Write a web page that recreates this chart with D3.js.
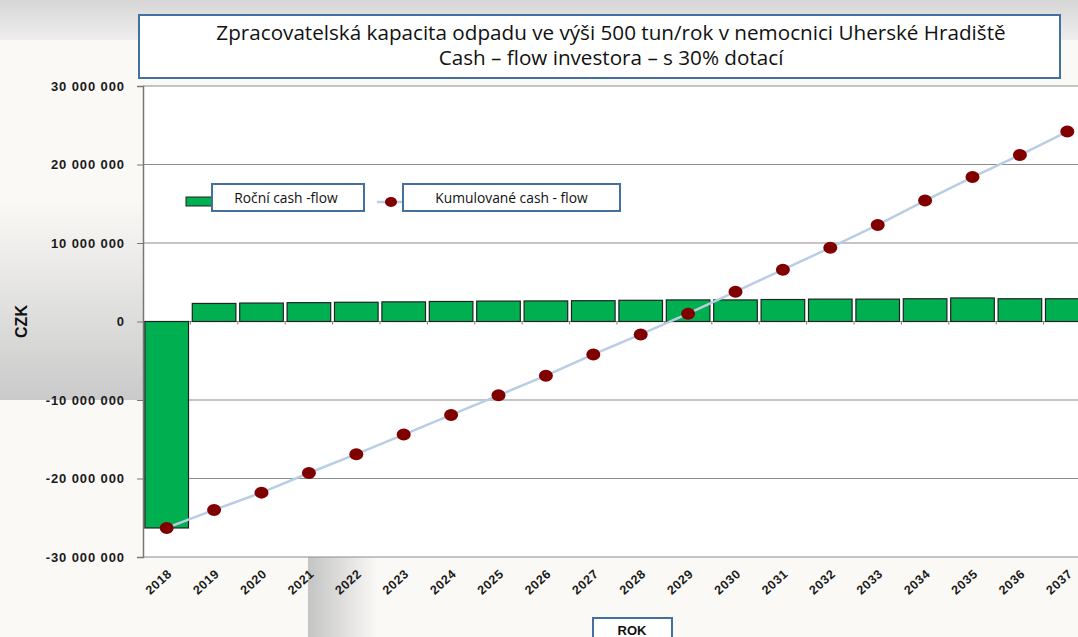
<html lang="cs">
<head>
    <meta charset="UTF-8"/>
    <title>Cash-flow investora</title>
    <script src="https://d3js.org/d3.v7.min.js"></script>
    <style>
        body { margin: 0; background: #faf9f6; }
        svg { display: block; }
    </style>
</head>
<body>
    <script>
        var years = [2018,2019,2020,2021,2022,2023,2024,2025,2026,2027,2028,2029,2030,2031,2032,2033,2034,2035,2036,2037];
        var annualCF = [-26300000, 2300000, 2350000, 2400000, 2450000, 2500000, 2550000, 2600000, 2620000, 2650000,
                        2700000, 2750000, 2750000, 2800000, 2850000, 2850000, 2900000, 3000000, 2900000, 2900000];
        var cumulativeCF = [-26300000, -24000000, -21800000, -19300000, -16900000, -14400000, -11900000, -9400000, -6900000, -4200000,
                            -1650000, 1000000, 3800000, 6600000, 9400000, 12300000, 15400000, 18400000, 21200000, 24200000];
        var yTicks = [-30000000, -20000000, -10000000, 0, 10000000, 20000000, 30000000];
        var titleLines = ["Zpracovatelská kapacita odpadu ve výši 500 tun/rok v nemocnici Uherské Hradiště",
                          "Cash – flow investora – s 30% dotací"];
        var legendLabels = ["Roční cash -flow", "Kumulované cash - flow"];

        var w = 1078, h = 637;
        var plotLeft = 143, plotTop = 86, plotBottom = 557;
        var bandW = 47.4;

        var svg = d3.select("body").append("svg")
            .attr("width", w)
            .attr("height", h);

        var defs = svg.append("defs");
        var g1 = defs.append("linearGradient").attr("id", "leftGrad").attr("x1", 0).attr("x2", 0).attr("y1", 0).attr("y2", 1);
        g1.append("stop").attr("offset", "0%").attr("stop-color", "#faf9f6");
        g1.append("stop").attr("offset", "100%").attr("stop-color", "#cacaca");
        var g2 = defs.append("linearGradient").attr("id", "topGrad").attr("x1", 0).attr("x2", 0).attr("y1", 0).attr("y2", 1);
        g2.append("stop").attr("offset", "0%").attr("stop-color", "#d6d6d6");
        g2.append("stop").attr("offset", "100%").attr("stop-color", "#eeeeee");
        var g3 = defs.append("linearGradient").attr("id", "stripGrad").attr("x1", 0).attr("x2", 1).attr("y1", 0).attr("y2", 0);
        g3.append("stop").attr("offset", "0%").attr("stop-color", "#c4c4c4");
        g3.append("stop").attr("offset", "100%").attr("stop-color", "#faf9f6");

        // background shading
        svg.append("rect").attr("x", 0).attr("y", 0).attr("width", w).attr("height", 40).attr("fill", "url(#topGrad)");
        svg.append("rect").attr("x", 0).attr("y", 200).attr("width", 143).attr("height", 200).attr("fill", "url(#leftGrad)");
        svg.append("rect").attr("x", 308).attr("y", 557).attr("width", 70).attr("height", 80).attr("fill", "url(#stripGrad)");

        var xScale = d3.scaleBand()
            .domain(years)
            .range([plotLeft, plotLeft + bandW * years.length])
            .paddingInner(0.08)
            .paddingOuter(0.04);

        var yScale = d3.scaleLinear()
            .domain([-30000000, 30000000])
            .range([plotBottom, plotTop]);

        // plot area
        svg.append("rect")
            .attr("x", plotLeft).attr("y", plotTop)
            .attr("width", w - plotLeft).attr("height", plotBottom - plotTop)
            .attr("fill", "white");

        // gridlines
        svg.append("g")
            .selectAll("line")
            .data(yTicks)
            .enter()
            .append("line")
            .attr("x1", plotLeft).attr("x2", w)
            .attr("y1", function(d) { return yScale(d); })
            .attr("y2", function(d) { return yScale(d); })
            .attr("stroke", "#8c8c8c")
            .attr("stroke-width", 1.2);

        // y axis
        var yAxis = d3.axisLeft(yScale)
            .tickValues(yTicks)
            .tickSize(6)
            .tickFormat(function(d) { return d3.format(",")(d).replace(/,/g, " ").replace("−", "-"); });
        var yg = svg.append("g")
            .attr("transform", "translate(" + plotLeft + ",0)")
            .call(yAxis);
        yg.select(".domain").attr("stroke", "#777").attr("stroke-width", 1.5);
        yg.selectAll(".tick line").attr("stroke", "#777");
        yg.selectAll("text")
            .attr("font-family", "Liberation Sans, Arial, sans-serif")
            .attr("font-weight", "bold")
            .attr("font-size", "13px")
            .attr("letter-spacing", "0.9px")
            .attr("fill", "#1a1a1a")
            .attr("x", -18);

        // bars
        svg.selectAll(".bar")
            .data(annualCF)
            .enter()
            .append("rect")
            .attr("class", "bar")
            .attr("x", function(d, i) { return xScale(years[i]); })
            .attr("y", function(d) { return yScale(Math.max(0, d)); })
            .attr("width", xScale.bandwidth())
            .attr("height", function(d) { return Math.abs(yScale(d) - yScale(0)); })
            .attr("fill", "#00b050")
            .attr("stroke", "#222")
            .attr("stroke-width", 1.2);

        // x axis ticks at category boundaries
        svg.append("g")
            .selectAll("line")
            .data(years)
            .enter()
            .append("line")
            .attr("x1", function(d, i) { return plotLeft + bandW * (i + 1); })
            .attr("x2", function(d, i) { return plotLeft + bandW * (i + 1); })
            .attr("y1", yScale(0))
            .attr("y2", yScale(0) + 3)
            .attr("stroke", "#777");

        // x labels
        svg.append("g")
            .selectAll("text")
            .data(years)
            .enter()
            .append("text")
            .text(function(d) { return d; })
            .attr("transform", function(d) {
                var cx = xScale(d) + xScale.bandwidth() / 2;
                return "translate(" + (cx + 6) + "," + (plotBottom + 18) + ") rotate(-42)";
            })
            .attr("text-anchor", "end")
            .attr("font-family", "Liberation Sans, Arial, sans-serif")
            .attr("font-weight", "bold")
            .attr("font-size", "12.5px")
            .attr("letter-spacing", "0.6px")
            .attr("fill", "#1a1a1a");

        // cumulative line
        var line = d3.line()
            .x(function(d, i) { return xScale(years[i]) + xScale.bandwidth() / 2; })
            .y(function(d) { return yScale(d); });
        svg.append("path")
            .datum(cumulativeCF)
            .attr("d", line)
            .attr("fill", "none")
            .attr("stroke", "#b9cde5")
            .attr("stroke-width", 2.5);

        svg.selectAll(".dot")
            .data(cumulativeCF)
            .enter()
            .append("ellipse")
            .attr("class", "dot")
            .attr("cx", function(d, i) { return xScale(years[i]) + xScale.bandwidth() / 2; })
            .attr("cy", function(d) { return yScale(d); })
            .attr("rx", 7)
            .attr("ry", 6)
            .attr("fill", "#800000");

        // title box
        svg.append("rect")
            .attr("x", 139).attr("y", 15)
            .attr("width", 921).attr("height", 63)
            .attr("fill", "white")
            .attr("stroke", "#41719c")
            .attr("stroke-width", 2);
        svg.append("g")
            .attr("transform", "translate(611,0) scale(1.06,1)")
            .selectAll("text")
            .data(titleLines)
            .enter()
            .append("text")
            .text(function(d) { return d; })
            .attr("x", 0)
            .attr("y", function(d, i) { return 40 + i * 25; })
            .attr("text-anchor", "middle")
            .attr("font-family", "Open Sans, Liberation Sans, sans-serif")
            .attr("font-size", "19.5px")
            .attr("fill", "#111");

        // legend
        svg.append("rect")
            .attr("x", 186).attr("y", 197).attr("width", 30).attr("height", 9)
            .attr("fill", "#00b050").attr("stroke", "#222");
        svg.append("line")
            .attr("x1", 377).attr("x2", 405).attr("y1", 202).attr("y2", 202)
            .attr("stroke", "#b9cde5").attr("stroke-width", 2.5);
        svg.append("ellipse")
            .attr("cx", 391).attr("cy", 202).attr("rx", 6).attr("ry", 5)
            .attr("fill", "#800000");
        var legendBoxes = [{x: 212, w: 152}, {x: 403, w: 217}];
        legendLabels.forEach(function(lab, i) {
            svg.append("rect")
                .attr("x", legendBoxes[i].x).attr("y", 184)
                .attr("width", legendBoxes[i].w).attr("height", 27)
                .attr("fill", "white")
                .attr("stroke", "#41719c").attr("stroke-width", 2);
            svg.append("text")
                .text(lab)
                .attr("x", legendBoxes[i].x + legendBoxes[i].w / 2 + (i === 0 ? -2 : 0))
                .attr("y", 203)
                .attr("text-anchor", "middle")
                .attr("font-family", "Open Sans, Liberation Sans, sans-serif")
                .attr("font-size", "13.8px")
                .attr("fill", "#111");
        });

        // axis titles
        svg.append("text")
            .text("CZK")
            .attr("transform", "translate(27," + yScale(0) + ") rotate(-90)")
            .attr("text-anchor", "middle")
            .attr("font-family", "Liberation Sans, Arial, sans-serif")
            .attr("font-weight", "bold")
            .attr("font-size", "16px")
            .attr("fill", "#111");

        svg.append("rect")
            .attr("x", 593).attr("y", 618)
            .attr("width", 79).attr("height", 30)
            .attr("fill", "white")
            .attr("stroke", "#41719c").attr("stroke-width", 2);
        svg.append("text")
            .text("ROK")
            .attr("x", 632).attr("y", 635)
            .attr("text-anchor", "middle")
            .attr("font-family", "Liberation Sans Narrow, Liberation Sans, Arial, sans-serif")
            .attr("font-weight", "bold")
            .attr("font-size", "13px")
            .attr("fill", "#111");
    </script>
</body>
</html>
